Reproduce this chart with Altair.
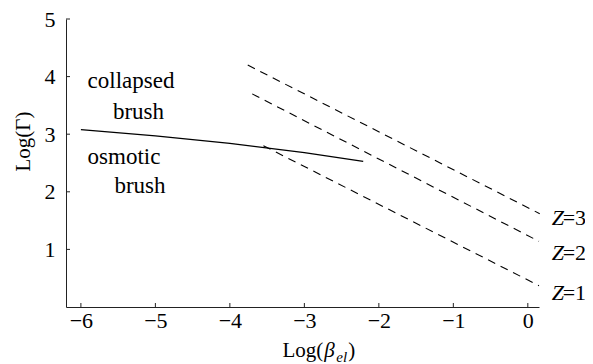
import altair as alt
import pandas as pd

FONT = "Liberation Serif"

# ---- data ----
x_ticks = [-6, -5, -4, -3, -2, -1, 0]
y_ticks = [1, 2, 3, 4, 5]

boundary_x = [-6.0, -5.0, -4.0, -3.0, -2.21]
boundary_y = [3.08, 2.97, 2.84, 2.68, 2.53]

z_values = ["3", "2", "1"]
z_start_x = [-3.76, -3.70, -3.55]
z_start_y = [4.20, 3.70, 2.80]
z_end_x = [0.16, 0.15, 0.15]
z_end_y = [1.62, 1.14, 0.37]
z_label_x = [0.32, 0.32, 0.32]
z_label_y = [1.42, 0.82, 0.13]

region_text = ["collapsed", "brush", "osmotic", "brush"]
region_x = [-5.91, -5.57, -5.91, -5.55]
region_y = [3.80, 3.26, 2.48, 1.98]

xtitle_x = [-2.745]
ytitle = "Log(Γ)"

# ---- tables ----
df_b = pd.DataFrame({"x": boundary_x, "y": boundary_y})
rows = []
for z, x0, y0, x1, y1 in zip(z_values, z_start_x, z_start_y, z_end_x, z_end_y):
    rows.append({"z": z, "x": x0, "y": y0, "o": 0})
    rows.append({"z": z, "x": x1, "y": y1, "o": 1})
df_z = pd.DataFrame(rows)
df_zl = pd.DataFrame({"z": ["=" + v for v in z_values], "x": z_label_x, "y": z_label_y})
df_r = pd.DataFrame({"t": region_text, "x": region_x, "y": region_y})
df_xt = pd.DataFrame({"x": x_ticks})
df_yt = pd.DataFrame({"y": y_ticks})
df_title = pd.DataFrame({"x": xtitle_x})

W, H = 473, 288
xs = alt.Scale(domain=[-6.2, 0.15], nice=False, zero=False)
ys = alt.Scale(domain=[0, 5], nice=False, zero=False)

x_axis = alt.Axis(values=x_ticks, format="d", title=None, grid=False, ticks=False, tickSize=0,
                  labelFont=FONT, labelFontSize=22, labelColor="black", labelPadding=20,
                  labelBaseline="alphabetic", domainColor="#222", domainWidth=1)
y_axis = alt.Axis(values=y_ticks, format="d", grid=False, ticks=False, tickSize=0,
                  labelFont=FONT, labelFontSize=22, labelColor="black", labelPadding=11,
                  domainColor="#222", domainWidth=1,
                  title=ytitle, titleFont=FONT, titleFontSize=21, titleFontWeight="normal",
                  titleColor="black", titleAngle=270, titleX=-37, titleY=122,
                  titleAlign="center", titleBaseline="alphabetic")

X = alt.X("x:Q", scale=xs, axis=x_axis)
Y = alt.Y("y:Q", scale=ys, axis=y_axis)

boundary = alt.Chart(df_b).mark_line(color="black", strokeWidth=1.3).encode(x=X, y=Y)

dashed = alt.Chart(df_z).mark_line(color="black", strokeWidth=1.1, strokeDash=[8, 6]).encode(
    x=X, y=Y, detail="z:N", order="o:Q",
)

zlab_italic = alt.Chart(df_zl).mark_text(font=FONT, fontSize=22, fontStyle="italic", align="left",
                                         baseline="alphabetic", color="black").encode(
    x=X, y=Y, text=alt.value("Z"),
)
zlab_rest = alt.Chart(df_zl).mark_text(font=FONT, fontSize=22, align="left", dx=11,
                                       baseline="alphabetic", color="black").encode(
    x=X, y=Y, text="z:N",
)

regions = alt.Chart(df_r).mark_text(font=FONT, fontSize=23, align="left", baseline="alphabetic",
                                    color="black").encode(x=X, y=Y, text="t:N")

xticks = alt.Chart(df_xt).mark_rule(color="#222", strokeWidth=1).encode(
    x=X, y=alt.value(H), y2=alt.value(H - 4),
)
yticks = alt.Chart(df_yt).mark_rule(color="#222", strokeWidth=1).encode(
    y=Y, x=alt.value(0), x2=alt.value(4),
)

t1 = alt.Chart(df_title).mark_text(font=FONT, color="black", baseline="alphabetic", fontSize=21,
                                   align="right").encode(x=X, y=alt.value(338), text=alt.value("Log("))
t2 = alt.Chart(df_title).mark_text(font=FONT, color="black", baseline="alphabetic", fontSize=21,
                                   fontStyle="italic", align="left", dx=1).encode(
    x=X, y=alt.value(338), text=alt.value("β"))
t3 = alt.Chart(df_title).mark_text(font=FONT, color="black", baseline="alphabetic", fontSize=15,
                                   fontStyle="italic", align="left", dx=13).encode(
    x=X, y=alt.value(343), text=alt.value("el"))
t4 = alt.Chart(df_title).mark_text(font=FONT, color="black", baseline="alphabetic", fontSize=21,
                                   align="left", dx=25).encode(
    x=X, y=alt.value(338), text=alt.value(")"))

chart = alt.layer(
    boundary, dashed, zlab_italic, zlab_rest, regions, xticks, yticks, t1, t2, t3, t4
).properties(
    width=W, height=H,
    autosize=alt.AutoSizeParams(type="none"),
    padding={"left": 58, "top": 11, "right": 46, "bottom": 57},
).configure_view(stroke=None)

chart.save("out.html", embed_options={"renderer": "svg", "actions": False})
